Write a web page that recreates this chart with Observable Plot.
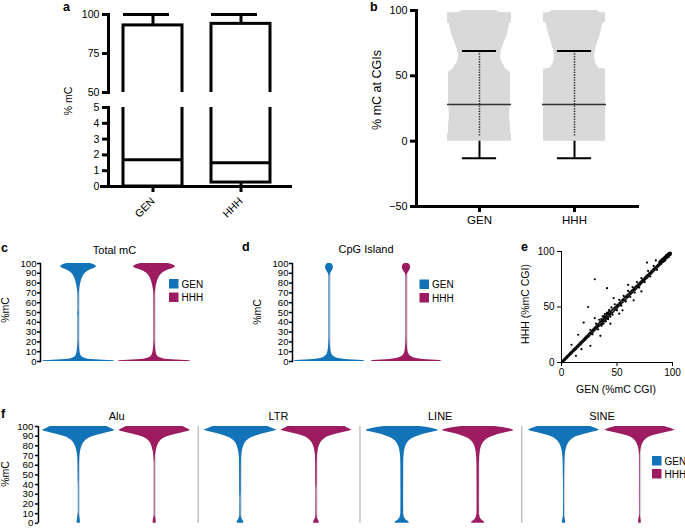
<!DOCTYPE html>
<html><head><meta charset="utf-8">
<script src="https://cdn.jsdelivr.net/npm/d3@7"></script>
<script src="https://cdn.jsdelivr.net/npm/@observablehq/plot@0.6"></script>
<style>
html,body{margin:0;padding:0;background:#fff}
#root{position:relative;width:685px;height:529px;overflow:hidden;background:#fff}
</style></head><body><div id="root"></div>
<script>
// ================= DATA =================
const groups = ["GEN", "HHH"];
const groupColors = ["#1273b9", "#9d1c61"];

// (a) box plot of % mC (broken axis 0-5 / 50-100)
const boxMin = [0, 0];
const boxQ1 = [0, 0.25];
const boxMedian = [1.7, 1.5];
const boxQ3 = [93, 94];
const boxMax = [100, 100];
const aTicksLow = [0, 1, 2, 3, 4, 5];
const aTicksHigh = [50, 75, 100];

// (b) % mC at CGIs: swarm outline [value, density], mean and SD
const cgiMean = [28, 28];
const cgiSD = [41, 41];
const bTicks = [-50, 0, 50, 100];
const swarmGEN = [[0,32],[5,32],[6,31],[10,31],[20,30],[30,31],[50,31],[52.5,31],[54,28],[57,25],[61,22],[65,21],[70,22],[74,24],[78,26],[82,28],[85,29],[90,30],[90.5,32],[98.2,32],[98.5,20],[99,19],[100,17]];
const swarmHHH = [[0,31],[5,31],[50,31],[55,31],[56,24],[60,21],[65,20],[70,21],[75,23],[80,25],[85,27],[90,28],[91,31],[98,31],[98.5,25],[99,24],[100,23]];

// violin tick labels
const violinTicks = [0, 10, 20, 30, 40, 50, 60, 70, 80, 90, 100];

// (c) Total mC violins [value, density]
const violinC_GEN = [[0,37],[0.8,36],[1.3,26],[1.8,17],[2.4,10],[3,7],[4,4.5],[5,3.2],[7,2.2],[9,1.6],[12,1.2],[16,0.8],[22,0.5],[45,0.5],[49,0.8],[53,0.5],[68,0.6],[72,0.9],[75,1.3],[78,1.9],[82,2.8],[85,3.8],[88,5.3],[90,7],[92,9.5],[94,13],[95,16],[96.5,18.3],[97.5,18],[99,15.5],[100,12]];
const violinC_HHH = [[0,37],[0.8,36],[1.3,27],[1.8,18],[2.4,11],[3,8],[4,5],[5,3.5],[7,2.4],[9,1.7],[12,1.2],[16,0.8],[22,0.5],[68,0.6],[72,0.9],[75,1.4],[78,2],[82,3],[85,4.2],[88,6],[90,8],[92,11],[94,15.5],[95,19],[96.5,21.5],[97.5,21],[99,18],[100,14]];

// (d) CpG Island violins
const violinD_GEN = [[0,36],[1,34],[1.5,24],[2,16],[3,9],[4,6],[5,4.5],[6,3.2],[8,2.2],[10,1.6],[13,1.1],[18,0.7],[25,0.45],[86,0.45],[89,0.8],[90.5,1.6],[92,2.6],[93.5,3.4],[95,3.8],[96.5,3.9],[98,3.6],[99.2,2.8],[100,1.5]];
const violinD_HHH = [[0,36],[1,34],[1.5,25],[2,17],[3,10],[4,6.5],[5,4.8],[6,3.4],[8,2.3],[10,1.6],[13,1.1],[18,0.7],[25,0.45],[86,0.45],[89,0.8],[90.5,1.7],[92,2.8],[93.5,3.6],[95,4],[96.5,4.1],[98,3.8],[99.2,3],[100,1.6]];

// (f) repeat classes
const fGroups = ["Alu", "LTR", "LINE", "SINE"];
const violinAlu_GEN = [[0,1.6],[2,1.6],[5,1.3],[8,0.8],[11,0.35],[40,0.35],[45,0.6],[60,0.7],[68,1],[71,1.3],[74,1.8],[77,2.5],[80,3.5],[82,4.4],[84,5.8],[86,7.8],[87.5,10],[89,13],[90.5,17],[92,23],[93,27],[94,31],[95,35.5],[96,37],[98,33],[100,29]];
const violinAlu_HHH = [[0,1.5],[3,1.5],[6,0.9],[8,0.35],[62,0.35],[66,0.6],[70,0.9],[73,1.3],[76,1.9],[79,2.7],[82,3.8],[84,5],[86,6.8],[87.5,9],[89,12],[90.5,16],[92,22],[93,26.5],[94,30.5],[95,35],[96,36.5],[98,33],[100,29]];
const violinLTR_GEN = [[0,3.2],[1.5,3.3],[3,2.6],[4.5,1.6],[6,1],[8,0.6],[25,0.5],[32,0.8],[60,0.9],[68,1.1],[72,1.5],[75,2],[78,2.8],[81,3.8],[84,5.5],[86,7.5],[88,10.5],[90,15],[92,21.5],[93.5,27.5],[95,34],[96,37.3],[98,33],[100,28]];
const violinLTR_HHH = [[0,2.8],[1.5,2.9],[3,2.2],[4.5,1.3],[6,0.8],[10,0.5],[35,0.4],[40,0.7],[62,0.8],[70,1],[74,1.5],[77,2.1],[80,3],[83,4.3],[85,5.8],[87,8],[89,11],[91,16],[92.5,22],[94,28.5],[95,33],[96,36.5],[98,33],[100,29]];
const violinLINE_GEN = [[0,7],[0.5,7.2],[1.5,6.8],[2.5,5.5],[4,3.5],[6,2.2],[10,1.4],[20,1.3],[60,1.4],[68,1.6],[73,2.1],[77,2.8],[80,3.8],[83,5.3],[85,7],[87,9.5],[88.5,12.5],[90,16],[91.5,20],[93,26],[94.5,33],[95.5,37],[96.5,36],[98,31],[99,26],[100,18]];
const violinLINE_HHH = [[0,6.5],[0.5,6.7],[1.5,6.3],[2.5,5],[4,3.2],[6,2],[10,1.2],[20,1.1],[60,1.2],[68,1.5],[73,2],[77,2.7],[80,3.6],[83,5.1],[85,6.8],[87,9.2],[88.5,12.2],[90,15.5],[91.5,19.5],[93,25.5],[94.5,32.5],[95.5,36.5],[96.5,35.5],[98,30.5],[99,25],[100,17]];
const violinSINE_GEN = [[0,1.6],[2,1.6],[4,1.3],[6,0.8],[8,0.5],[30,0.4],[45,0.5],[55,0.7],[65,0.9],[70,1.2],[74,1.7],[77,2.4],[80,3.3],[83,4.8],[85,6.3],[87,8.6],[89,11.8],[90.5,15.5],[92,21],[93.5,27],[95,33.5],[96,36.5],[98,33],[100,27]];
const violinSINE_HHH = [[0,1.3],[3,1.3],[5,0.9],[7,0.45],[10,0.3],[70,0.35],[74,0.7],[77,1.2],[80,2],[83,3.2],[85,4.5],[87,6.5],[89,9.5],[90.5,13],[92,19],[93.5,25.5],[95,32.5],[96,36],[98,32],[100,25]];

// (e) scatter: [GEN %mC CGI, HHH %mC CGI]
const eTicks = [0, 50, 100];
const cgiPairs = [
[0.5,0.2],[1,1.6],[1.6,0.9],[2.2,2.8],[2.7,1.8],[3.3,3.9],[3.8,3],[4.4,5.1],[5,4.1],[5.5,6.2],[6.1,5.2],[6.7,7.4],[7.2,6.3],[7.8,8.6],[8.4,7.5],[9,9.8],[9.6,8.7],[10.2,11.1],[10.8,9.9],[11.4,12.3],[12,11],[12.6,13.4],[13.2,12.2],[13.8,14.7],[14.4,13.5],[15,15.9],[15.6,14.6],[16.2,17.2],[16.8,15.9],[17.4,18.4],[18,17],[18.6,19.6],[19.2,18.3],[19.8,20.9],[20.4,19.5],[21,22.1],[21.6,20.6],[22.2,23.4],[22.8,21.9],[23.4,24.5],[24,23.1],[24.6,25.8],[25.2,24.2],[25.8,27],[26.4,25.4],[27,28.3],[27.6,26.5],[28.2,29.6],[28.8,27.9],[29.4,30.8],[30,29.1],[30.6,32.1],[31.2,30.3],[31.8,33.3],[32.4,31.6],[33,34.6],[33.6,32.7],[34.2,35.9],[34.8,33.9],[35.4,37.1],[36,35.1],[36.6,38.4],[37.2,36.3],[37.8,39.7],[38.4,37.5],[39,40.9],[39.6,38.6],[40.2,42],[40.8,39.8],[41.4,43.3],[42,41],[42.6,44.4],[43.2,42.3],[43.8,45.6],[44.4,43.4],[45,46.8],[45.6,44.7],[46.2,47.9],[46.8,45.8],[47.4,49.1],[48,47.1],[48.6,50.2],[49.2,48.3],[49.8,51.4],[50.4,49.5],[51,52.5],[51.6,50.8],[52.2,53.8],[52.8,51.9],[53.4,55],[54,53.1],[54.6,56.2],[55.2,54.3],[55.8,57.3],[56.4,55.6],[57,58.6],[57.6,56.7],[58.2,59.7],[58.8,58],[59.4,61],[60,59.1],[60.6,62.1],[61.2,60.4],[61.8,63.4],[62.4,61.5],[63,64.6],[63.6,62.8],[64.2,65.7],[64.8,64],[65.4,67],[66,65.2],[66.6,68.1],[67.2,66.4],[67.8,69.3],[68.4,67.6],[69,70.5],[69.6,68.8],[70.2,71.7],[70.8,70],[71.4,72.9],[72,71.2],[72.6,74],[73.2,72.5],[73.8,75.2],[74.4,73.6],[75,76.4],[75.6,74.9],[76.2,77.6],[76.8,76],[77.4,78.8],[78,77.3],[78.6,80],[79.2,78.5],[79.8,81.1],[80.4,79.7],[81,82.3],[81.6,80.9],[82.2,83.5],[82.8,82],[83.4,84.7],[84,83.3],[84.6,85.8],[85.2,84.5],[85.8,87],[86.4,85.6],[87,88.3],[87.6,86.9],[88.2,89.4],[88.8,88],[89.4,90.6],[90,89.3],[90.6,91.7],[91.2,90.5],[91.8,92.9],[92.4,91.7],[93,94.1],[93.6,92.9],[94.2,95.2],[94.8,94.1],[95.4,96.3],[96,95.3],[96.6,97.4],[97.2,96.4],[97.8,98.2],[98.4,97.4],
[26,29.5],[28,25.4],[31,35],[33,29.8],[34,38.5],[36,33],[37,41.5],[38,35.2],[39,43.6],[40,37.1],[41,45],[42,39],[43,47.5],[44,41.2],[45,49.6],[46,43],[48,52.5],[50,47],[52,56.5],[54,51.2],[56,60],[58,55],[60,64.5],[62,59],[64,68],[66,63],[68,72.5],[70,67.5],[72,76],[75,72.5],[78,82.5],[80,77.5],[83,87],[86,83.5],
[91,91],[92,91.8],[93,92.6],[94,93.8],[95,94.9],[96,95.5],[97,96.8],[96,97.8],[95,97.2],[97,98.5],[98,97],[94,96.5],[93,95.2],[92,94.3],[91,93.4],[90,92.8],[89,91.6],[96.5,98.4],[97.5,99],[98.5,98.6],
[88,90.5],[89.5,88.8],[90.5,92.4],[91.5,90.6],[92.5,93.6],[93.5,92.2],[94.5,95.8],[95.5,94.4],[96.5,97],[97.5,97.8],[98,98.8],[96.8,95.2],[95.2,96.7],[93.8,94.9],[92.8,91.4],[91.6,92.9],[90.2,91.2],[88.6,89.9],[87.2,87.5],[85.6,86.2],[84.4,85.3],[82.8,83.9],[81.2,81.4],[79.6,80.4],[77.8,78.1],[76.4,77.3],[74.6,74.8],[73.4,73.9],[71.6,71.8],
[35,36.4],[36.2,37.5],[37.4,38.2],[38.6,39.8],[39.8,40.5],[41,41.9],[42.2,43.6],[43.4,44.1],[35.8,39.2],[38.2,41.8],[40.6,44.1],[42.8,46.3],[36.8,34.5],[39.4,37.2],[41.8,39.5],
[2.6,2.5],[4.8,5.3],[7,7.1],[9.2,9.5],[11.6,11.8],[14,14.1],[16.4,16.6],[18.8,18.9],[21.2,21.3],[23.6,23.9],[26.2,26.4],[28.4,28.8],[30.8,31.2],[32.8,33.3],[50,50.6],[53,53.5],[56,56.4],[59,59.6],[62,62.5],[65,65.4],[68,68.6],
[30,75],[41,67],[24,50],[20,36],[35,24],[26,15],[13,6],[77,90],[60,70],[65,56],[47,58],[52,44],[15,25],[9,16],[44,35],[72,64],[85,92],[18,12],[30,40],[55,47]
];

// ================= DRAWING =================
const FONT = "'Liberation Sans', Arial, Helvetica, sans-serif";
const root = document.getElementById("root");
function place(node, left, top) {
  node.style.position = "absolute";
  node.style.left = left + "px";
  node.style.top = top + "px";
  root.appendChild(node);
}
function st(fs) {
  return {fontFamily: FONT, fontSize: fs + "px", background: "transparent", color: "#000", overflow: "visible"};
}
const colorScale = {domain: groups, range: groupColors};
const neckColor = "#d3d3d9";
const intFmt = d3.format("d");

// ---------- (a) ----------
const boxData = groups.map((g, i) => ({g, min: boxMin[i], q1: boxQ1[i], med: boxMedian[i], q3: boxQ3[i], max: boxMax[i]}));
const xBandA = {type: "band", domain: groups, paddingInner: 0.33, paddingOuter: 0.165};

const aUpper = Plot.plot({
  width: 300, height: 100, marginLeft: 108, marginRight: 16, marginTop: 14, marginBottom: 8,
  style: st(10.6),
  x: {...xBandA, axis: null},
  y: {domain: [d3.min(aTicksHigh), d3.max(aTicksHigh)]},
  marks: [
    Plot.barY(boxData, {x: "g", y1: "q1", y2: "q3", fill: "none", stroke: "#000", strokeWidth: 3, clip: true}),
    Plot.ruleX(boxData, {x: "g", y1: "q3", y2: "max", stroke: "#000", strokeWidth: 3}),
    Plot.tickY(boxData, {x: "g", y: "max", stroke: "#000", strokeWidth: 3, insetRight: 13}),
    Plot.axisY({ticks: aTicksHigh, tickFormat: intFmt, tickSize: 6, strokeWidth: 3, tickPadding: 3, label: null}),
    Plot.frame({anchor: "left", strokeWidth: 3})
  ]
});
place(aUpper, 0, 0);

const aLower = Plot.plot({
  width: 300, height: 140, marginLeft: 108, marginRight: 16, marginTop: 7, marginBottom: 54,
  style: st(10.6),
  x: {...xBandA},
  y: {domain: [d3.min(aTicksLow), d3.max(aTicksLow)]},
  marks: [
    Plot.barY(boxData, {x: "g", y1: "q1", y2: "q3", fill: "none", stroke: "#000", strokeWidth: 3, clip: true}),
    Plot.tickY(boxData, {x: "g", y: "med", stroke: "#000", strokeWidth: 3}),
    Plot.ruleX(boxData, {x: "g", y1: "min", y2: "q1", stroke: "#000", strokeWidth: 3}),
    Plot.axisY({ticks: aTicksLow, tickFormat: intFmt, tickSize: 6, strokeWidth: 3, tickPadding: 3, label: null}),
    Plot.frame({anchor: "left", strokeWidth: 3}),
    Plot.ruleY([d3.min(aTicksLow)], {strokeWidth: 3, insetLeft: -8, insetRight: -8}),
    Plot.axisX({tickSize: 6, strokeWidth: 3, tickPadding: 7, tickRotate: -45, label: null})
  ]
});
place(aLower, 0, 100);

// ---------- (b) ----------
const bStats = groups.map((g, i) => ({g, c: i, mean: cgiMean[i], lo: cgiMean[i] - cgiSD[i], hi: cgiMean[i] + cgiSD[i]}));
const swarmRows = [swarmGEN, swarmHHH].flatMap((prof, i) => prof.map(([v, d]) => ({g: groups[i], c: i, v, d})));
const bHalf = 0.337;
const kB = bHalf / d3.max(swarmRows, d => d.d);
const bBase = d3.min(swarmRows, d => d.v);
const bPlot = Plot.plot({
  width: 330, height: 230, marginLeft: 96, marginRight: 13, marginTop: 10, marginBottom: 24,
  style: st(10.8),
  x: {domain: [-0.663, 1.663]},
  y: {domain: [d3.min(bTicks), d3.max(bTicks)]},
  marks: [
    Plot.areaX(swarmRows, {y: "v", x1: d => d.c - d.d * kB, x2: d => d.c + d.d * kB, z: "g", fill: "#d9d9d9"}),
    Plot.ruleX(bStats, {x: "c", y1: "lo", y2: () => bBase, strokeWidth: 2}),
    Plot.ruleX(bStats, {x: "c", y1: () => bBase + 4, y2: "hi", stroke: "#222", strokeWidth: 1.5, strokeDasharray: "1.3,1.3"}),
    Plot.ruleY(bStats, {y: "mean", x1: d => d.c - bHalf, x2: d => d.c + bHalf, stroke: "#333", strokeWidth: 1.5}),
    Plot.ruleY(bStats, {y: "hi", x1: d => d.c - 0.18, x2: d => d.c + 0.18, strokeWidth: 2}),
    Plot.ruleY(bStats, {y: "lo", x1: d => d.c - 0.18, x2: d => d.c + 0.18, strokeWidth: 2}),
    Plot.axisY({ticks: bTicks, tickSize: 6, strokeWidth: 3, tickPadding: 3, label: null}),
    Plot.axisX({ticks: [0, 1], tickFormat: i => groups[i], tickSize: 6, strokeWidth: 3, tickPadding: 3, fontSize: 11.5, label: null}),
    Plot.frame({anchor: "left", strokeWidth: 3}),
    Plot.frame({anchor: "bottom", strokeWidth: 3})
  ]
});
place(bPlot, 320, 0);

// ---------- violins (c, d, f) ----------
const allProfiles = [violinC_GEN, violinC_HHH, violinD_GEN, violinD_HHH, violinAlu_GEN, violinAlu_HHH, violinLTR_GEN, violinLTR_HHH, violinLINE_GEN, violinLINE_HHH, violinSINE_GEN, violinSINE_HHH];
const vHalf = 0.48;
const vk = vHalf / d3.max(allProfiles.flat(), d => d[1]);
function violinRows(profiles, extra = {}) {
  return profiles.flatMap((prof, i) => prof.map(([v, d]) => ({...extra, g: groups[i], c: i, v, x1: i - d * vk, x2: i + d * vk})));
}
function neckRows(profiles, extra = {}) {
  return profiles.map((prof, i) => ({...extra, g: groups[i], c: i, lo: d3.min(prof, d => d[0]), hi: d3.max(prof, d => d[0])}));
}
function violinPanel(profiles, left, xDomain) {
  const p = Plot.plot({
    width: 200, height: 112, marginLeft: 40, marginRight: 8, marginTop: 8, marginBottom: 6,
    style: st(9.6),
    x: {domain: xDomain, axis: null},
    y: {domain: [d3.min(violinTicks), d3.max(violinTicks)]},
    color: colorScale,
    marks: [
      Plot.ruleX(neckRows(profiles), {x: "c", y1: "lo", y2: "hi", stroke: neckColor, strokeWidth: 2.4}),
      Plot.areaX(violinRows(profiles), {y: "v", x1: "x1", x2: "x2", z: "g", fill: "g"}),
      Plot.axisY({ticks: violinTicks, tickSize: 3, strokeWidth: 1.5, tickPadding: 1, label: null}),
      Plot.frame({anchor: "left", strokeWidth: 1.5})
    ]
  });
  place(p, left, 255);
}
violinPanel([violinC_GEN, violinC_HHH], 0, [-0.5, 1.5]);
violinPanel([violinD_GEN, violinD_HHH], 252, [-0.48, 1.494]);

const fProfiles = {Alu: [violinAlu_GEN, violinAlu_HHH], LTR: [violinLTR_GEN, violinLTR_HHH], LINE: [violinLINE_GEN, violinLINE_HHH], SINE: [violinSINE_GEN, violinSINE_HHH]};
const fRows = fGroups.flatMap(fg => violinRows(fProfiles[fg], {fg}));
const fNeck = fGroups.flatMap(fg => neckRows(fProfiles[fg], {fg}));
const fXDomain = [-0.53, 1.6];
const fPlot = Plot.plot({
  width: 686, height: 124, marginLeft: 38, marginRight: 0, marginTop: 21, marginBottom: 6,
  style: st(9.8),
  fx: {domain: fGroups, padding: 0, axis: null},
  x: {domain: fXDomain, axis: null},
  y: {domain: [d3.min(violinTicks), d3.max(violinTicks)]},
  color: colorScale,
  marks: [
    Plot.ruleX(fGroups.slice(1), {fx: d => d, x: () => fXDomain[0], dx: -2, stroke: "#b4b4b4", strokeWidth: 1.2}),
    Plot.ruleX(fNeck, {fx: "fg", x: "c", y1: "lo", y2: "hi", stroke: neckColor, strokeWidth: 2.4}),
    Plot.areaX(fRows, {fx: "fg", y: "v", x1: "x1", x2: "x2", z: "g", fill: "g"}),
    Plot.text(fGroups, {fx: d => d, x: () => 0.5, y: () => d3.max(violinTicks), text: d => d, dy: -10, fontSize: 11}),
    Plot.ruleX([fGroups[0]], {fx: d => d, x: () => fXDomain[0], strokeWidth: 1.5}),
    Plot.axisY({ticks: violinTicks, tickSize: 3, strokeWidth: 1.5, tickPadding: 2, label: null})
  ]
});
place(fPlot, 0, 405);

// ---------- (e) ----------
const ePlot = Plot.plot({
  width: 195, height: 152, marginLeft: 71, marginRight: 13, marginTop: 11, marginBottom: 30,
  style: st(10),
  x: {domain: [d3.min(eTicks), d3.max(eTicks)]},
  y: {domain: [d3.min(eTicks), d3.max(eTicks)]},
  marks: [
    Plot.dot(cgiPairs, {x: d => d[0], y: d => d[1], r: 1.1, fill: "#000", stroke: "none"}),
    Plot.axisY({ticks: eTicks, tickSize: 4, tickPadding: 3, label: null}),
    Plot.axisX({ticks: eTicks, tickSize: 4, tickPadding: 2, label: null}),
    Plot.frame({anchor: "left"}),
    Plot.frame({anchor: "bottom"})
  ]
});
place(ePlot, 490, 240);

// ---------- text overlay (panel letters, titles, axis labels, legends) ----------
const ann = d3.create("svg").attr("width", 685).attr("height", 529)
  .style("position", "absolute").style("left", "0px").style("top", "0px")
  .style("pointer-events", "none").style("font-family", FONT);
function txt(s, x, y, {size = 11, weight = "normal", anchor = "start"} = {}) {
  ann.append("text").attr("x", x).attr("y", y).attr("font-size", size).attr("font-weight", weight)
    .attr("text-anchor", anchor).attr("fill", "#000").text(s);
}
function vtxt(s, x, y, size = 11) {
  ann.append("text").attr("transform", `translate(${x},${y}) rotate(-90)`).attr("font-size", size)
    .attr("text-anchor", "middle").attr("dominant-baseline", "central").attr("fill", "#000").text(s);
}
txt("a", 63, 11, {size: 12.5, weight: "bold"});
txt("b", 370, 10.5, {size: 12.5, weight: "bold"});
txt("c", 1, 252, {size: 12.5, weight: "bold"});
txt("d", 242, 251, {size: 12.5, weight: "bold"});
txt("e", 521, 251, {size: 12.5, weight: "bold"});
txt("f", 1, 418, {size: 12.5, weight: "bold"});
txt("Total mC", 114.5, 254, {anchor: "middle"});
txt("CpG Island", 366, 253, {anchor: "middle"});
txt("GEN (%mC CGI)", 616, 393, {anchor: "middle", size: 10.5});
vtxt("% mC", 68, 101, 10.5);
vtxt("% mC at CGIs", 377, 90, 12.5);
vtxt("%mC", 5, 310, 10.5);
vtxt("%mC", 257, 312, 10.5);
vtxt("%mC", 5, 474, 10.5);
vtxt("HHH (%mC CGI)", 525, 304, 10.5);
function legend(x, y, gap) {
  groups.forEach((g, i) => {
    ann.append("rect").attr("x", x).attr("y", y + i * gap).attr("width", 9.5).attr("height", 9.5).attr("fill", groupColors[i]);
    txt(g, x + 12.5, y + i * gap + 8.8, {size: 10});
  });
}
legend(169, 279, 13.5);
legend(419.5, 279.5, 13.5);
legend(652, 456, 13);
root.appendChild(ann.node());
</script>
</body></html>
